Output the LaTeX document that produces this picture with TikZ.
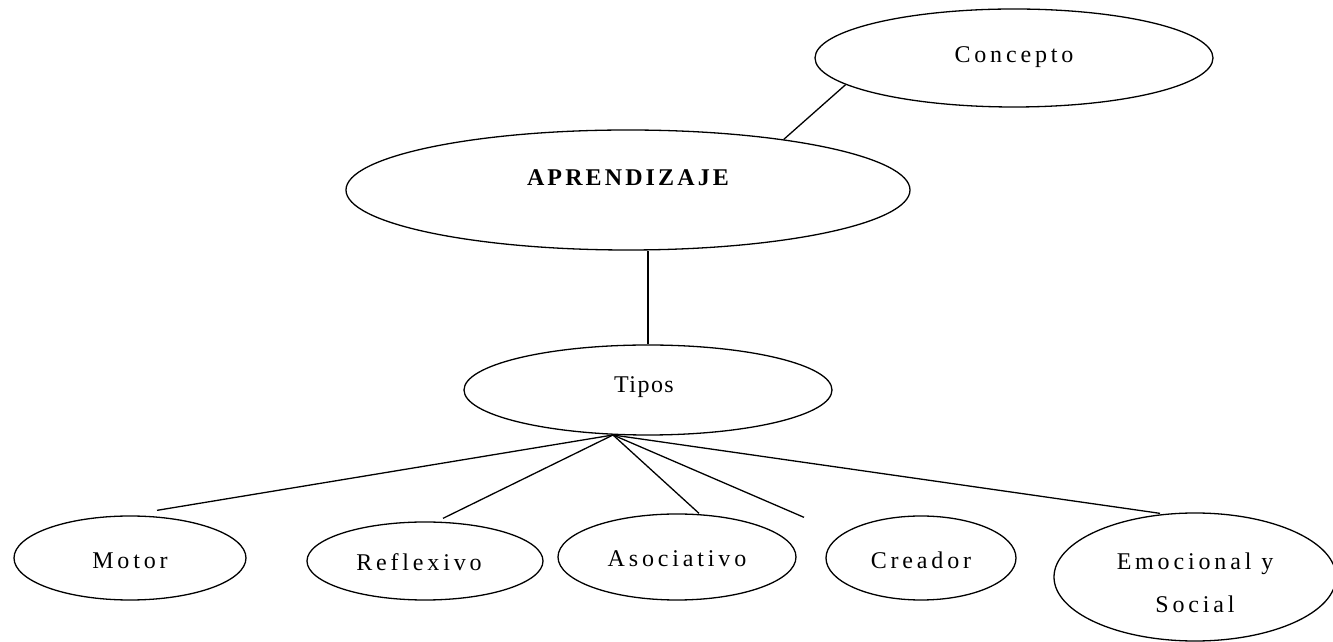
\documentclass[tikz,border=0pt]{standalone}
\usepackage{fontspec}
\setmainfont{Liberation Serif}
\newfontfamily\lblfont[LetterSpace=16]{Liberation Serif}
\newfontfamily\lblbold[LetterSpace=13]{Liberation Serif Bold}
\usetikzlibrary{shapes.geometric,calc}
\begin{document}
\begin{tikzpicture}[x=1pt,y=1pt,
  oval/.style={ellipse, draw, line width=1.3pt, inner sep=0pt},
  lbl/.style={font=\lblfont\fontsize{24}{43}\selectfont, align=center, inner sep=0pt},
  link/.style={line width=1.3pt}]
\useasboundingbox (0,0) rectangle (1333,642);
% y_tikz = 642 - y_px
\node[oval, minimum width=398, minimum height=98, label={[lbl,yshift=1pt]center:Concepto}] (concepto) at (1014,584) {};
\node[oval, minimum width=564, minimum height=120, label={[lbl,font=\lblbold\fontsize{24}{28}\selectfont,yshift=12pt]center:APRENDIZAJE}] (aprend) at (628,452) {};
\node[oval, minimum width=368, minimum height=90, label={[lbl,font=\lblfont\fontsize{24}{28}\selectfont\addfontfeatures{LetterSpace=6},yshift=3pt,xshift=-4pt]center:Tipos}] (tipos) at (648,252) {};
\node[oval, minimum width=232, minimum height=84, label={[lbl,yshift=-3pt]center:Motor}] (motor) at (130,84) {};
\node[oval, minimum width=236, minimum height=78, label={[lbl,yshift=-1pt,xshift=-6pt]center:Reflexivo}] (reflex) at (425,81) {};
\node[oval, minimum width=238, minimum height=86, label={[lbl,yshift=-2pt]center:Asociativo}] (asoc) at (677,85) {};
\node[oval, minimum width=190, minimum height=84, label={[lbl,yshift=-2pt]center:Creador}] (creador) at (921,84) {};
\node[oval, minimum width=282, minimum height=128, label={[lbl,yshift=-5.5pt]center:Emocional y\\Social}] (emoc) at (1195,65) {};
\coordinate (hub) at (613,207);
\draw[link] (concepto.189) -- (aprend.18);
\draw[link] (aprend.south -| tipos.north) -- (tipos.north);
\draw[link] (hub) -- ($(motor.north)+(27,5)$);
\draw[link] (hub) -- ($(reflex.north)+(18,3)$);
\draw[link] (hub) -- ($(asoc.north)+(22,0)$);
\draw[link] (hub) -- ($(creador.north)+(-117,-2)$);
\draw[link] (hub) -- ($(emoc.north)+(-35,-1)$);
\end{tikzpicture}
\end{document}
